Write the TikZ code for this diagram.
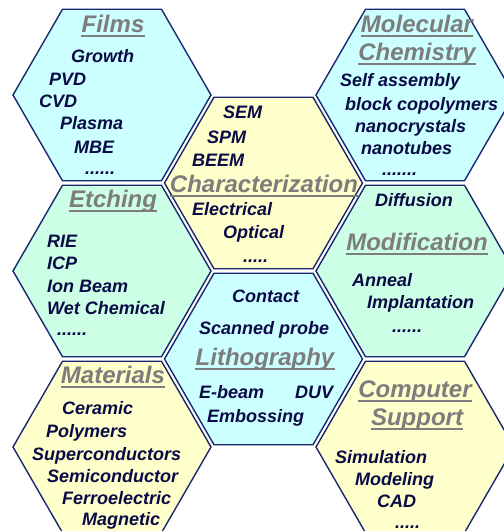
\documentclass[tikz,border=0pt]{standalone}
\usepackage{fontspec}
\setmainfont{Liberation Sans}
\usetikzlibrary{shapes.geometric}

\definecolor{edgeblue}{RGB}{25,40,110}
\definecolor{inkblue}{RGB}{10,10,70}
\definecolor{titlegray}{RGB}{125,125,125}
\definecolor{cellcyan}{RGB}{204,255,255}
\definecolor{cellyellow}{RGB}{255,255,204}
\definecolor{cellmint}{RGB}{204,255,229}

\tikzset{
	cell/.style  = { draw = edgeblue, line width = 1.4pt, regular polygon, regular polygon sides = 6, minimum size = 198pt, inner sep = 0pt },
	item/.style  = { anchor = base west, inner sep = 0pt, text = inkblue, font = \fontsize{18}{20}\selectfont\bfseries\itshape },
	title/.style = { anchor = base, inner sep = 0pt, text = titlegray, font = \fontsize{24}{26}\selectfont\bfseries\itshape,
		append after command = { \pgfextra{ \draw [titlegray, line width = 1.2pt] ([yshift = -4pt]\tikzlastnode.base west) -- ([yshift = -4pt]\tikzlastnode.base east); } } }
}

\begin{document}
\begin{tikzpicture}[x = 1pt, y = -1pt]
		\useasboundingbox (0,0) rectangle (504,531);
		\clip (0,0) rectangle (504,531);

		% honeycomb
		\node [cell, fill = cellcyan]   (films)     at (112,95)    {};
		\node [cell, fill = cellmint]   (etching)   at (112,271)   {};
		\node [cell, fill = cellyellow] (materials) at (112,447)   {};
		\node [cell, fill = cellyellow] (charact)   at (263.5,183) {};
		\node [cell, fill = cellcyan]   (litho)     at (263.5,359) {};
		\node [cell, fill = cellcyan]   (molchem)   at (415,95)    {};
		\node [cell, fill = cellmint]   (modif)     at (415,271)   {};
		\node [cell, fill = cellyellow] (compsup)   at (415,447)   {};

		% films
		\node [title] (filmsT) at (113,32) {Films};
		\node [item] (growth) at (71,62)  {Growth};
		\node [item] (pvd)    at (49,85)  {PVD};
		\node [item] (cvd)    at (39,107) {CVD};
		\node [item] (plasma) at (60,129) {Plasma};
		\node [item] (mbe)    at (74,153) {MBE};
		\node [item] (filmsD) at (85,174) {......};

		% characterization
		\node [item] (sem)   at (223,118) {SEM};
		\node [item] (spm)   at (207,143) {SPM};
		\node [item] (beem)  at (192,166) {BEEM};
		\node [title] (charactT) at (264,192) {Characterization};
		\node [item] (elec)  at (192,215) {Electrical};
		\node [item] (optic) at (223,238) {Optical};
		\node [item] (charactD) at (243,262) {.....};

		% molecular chemistry
		\node [title] (molchemT)  at (417,32) {Molecular};
		\node [title] (molchemT2) at (417,60) {Chemistry};
		\node [item] (selfas) at (340,86)  {Self assembly};
		\node [item] (blockc) at (345,110) {block copolymers};
		\node [item] (nanocr) at (355,132) {nanocrystals};
		\node [item] (nanotb) at (361,154) {nanotubes};
		\node [item] (molchemD) at (382,175) {.......};

		% etching
		\node [title] (etchingT) at (113,207) {Etching};
		\node [item] (rie)     at (47,247) {RIE};
		\node [item] (icp)     at (47,269) {ICP};
		\node [item] (ionbeam) at (47,292) {Ion Beam};
		\node [item] (wetch)   at (47,314) {Wet Chemical};
		\node [item] (etchingD) at (57,335) {......};

		% modification
		\node [item] (diffus) at (375,206) {Diffusion};
		\node [title] (modifT) at (417,250) {Modification};
		\node [item] (anneal) at (352,286) {Anneal};
		\node [item] (implan) at (367,308) {Implantation};
		\node [item] (modifD) at (392,332) {......};

		% lithography
		\node [item] (contact) at (232,302) {Contact};
		\node [item] (scanpr)  at (199,334) {Scanned probe};
		\node [title] (lithoT) at (265,365) {Lithography};
		\node [item] (ebeam)   at (199,398) {E-beam};
		\node [item] (duv)     at (295,398) {DUV};
		\node [item] (emboss)  at (207,422) {Embossing};

		% materials
		\node [title] (materialsT) at (113,383) {Materials};
		\node [item] (ceramic) at (62,414) {Ceramic};
		\node [item] (polym)   at (46,437) {Polymers};
		\node [item] (supcon)  at (32,460) {Superconductors};
		\node [item] (semcon)  at (47,482) {Semiconductor};
		\node [item] (ferro)   at (62,504) {Ferroelectric};
		\node [item] (magnet)  at (82,525) {Magnetic};

		% computer support
		\node [title] (compsupT)  at (415,397) {Computer};
		\node [title] (compsupT2) at (417,425) {Support};
		\node [item] (simul)  at (335,463) {Simulation};
		\node [item] (model)  at (355,485) {Modeling};
		\node [item] (cad)    at (377,507) {CAD};
		\node [item] (compsupD) at (395,528) {.....};
	\end{tikzpicture}
\end{document}
